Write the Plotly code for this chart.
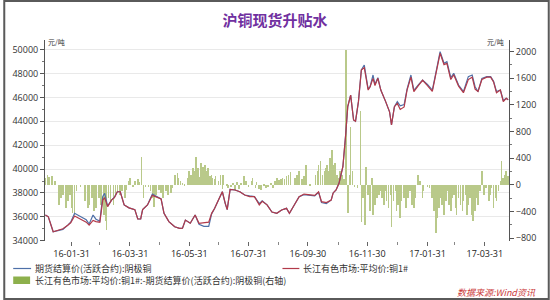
import plotly.graph_objects as go

# ---------------- data ----------------
line_dates = [
    "2016-01-04", "2016-01-07", "2016-01-12", "2016-01-17", "2016-01-22", "2016-01-27", "2016-01-30",
    "2016-02-03", "2016-02-08", "2016-02-15", "2016-02-18", "2016-02-22", "2016-02-25", "2016-02-29",
    "2016-03-03", "2016-03-05", "2016-03-08", "2016-03-12", "2016-03-15", "2016-03-18", "2016-03-21",
    "2016-03-25", "2016-03-30", "2016-04-05", "2016-04-08", "2016-04-11", "2016-04-13", "2016-04-18",
    "2016-04-23", "2016-04-28", "2016-05-02", "2016-05-05", "2016-05-10", "2016-05-16", "2016-05-21",
    "2016-05-24", "2016-05-27", "2016-06-01", "2016-06-06", "2016-06-10", "2016-06-15", "2016-06-20",
    "2016-06-23", "2016-06-26", "2016-06-30", "2016-07-04", "2016-07-07", "2016-07-09", "2016-07-12",
    "2016-07-17", "2016-07-22", "2016-07-27", "2016-08-01", "2016-08-06", "2016-08-11", "2016-08-14",
    "2016-08-19", "2016-08-24", "2016-08-29", "2016-09-03", "2016-09-08", "2016-09-11", "2016-09-16",
    "2016-09-21", "2016-09-26", "2016-10-02", "2016-10-07", "2016-10-11", "2016-10-14", "2016-10-19",
    "2016-10-24", "2016-10-26", "2016-10-29", "2016-11-01", "2016-11-05", "2016-11-08", "2016-11-10",
    "2016-11-13", "2016-11-16", "2016-11-18", "2016-11-21", "2016-11-24", "2016-11-27", "2016-12-01",
    "2016-12-03", "2016-12-06", "2016-12-08", "2016-12-11", "2016-12-14", "2016-12-19", "2016-12-23",
    "2016-12-25", "2016-12-28", "2016-12-31", "2017-01-03", "2017-01-07", "2017-01-10", "2017-01-14",
    "2017-01-17", "2017-01-22", "2017-01-26", "2017-01-31", "2017-02-05", "2017-02-08", "2017-02-13",
    "2017-02-17", "2017-02-20", "2017-02-24", "2017-02-27", "2017-03-04", "2017-03-09", "2017-03-14",
    "2017-03-18", "2017-03-21", "2017-03-24", "2017-03-28", "2017-04-02", "2017-04-06", "2017-04-09",
    "2017-04-12", "2017-04-16", "2017-04-19", "2017-04-22", "2017-04-24",
]

# 长江有色市场:平均价:铜1# (red)
spot_price = [
    36150, 36000, 34750, 34850, 35000, 35300, 35500,
    36070, 35850, 35550, 35300, 35700, 35600, 35550,
    37400, 37600, 36850, 37400, 37600, 38100, 38100,
    37000, 36750, 36600, 35820, 35820, 36600, 36990,
    37800, 37650, 37500, 36300, 35600, 35170, 35040,
    35050, 35730, 35460, 36150, 35460, 35500, 35550,
    36290, 36700, 37410, 38100, 37130, 36600, 38300,
    38250, 38100, 37830, 37700, 37690, 37000, 37300,
    37000, 36400, 36300, 36570, 36710, 36300, 36990,
    37690, 37910, 37850, 37800, 38100, 37270, 37200,
    37410, 38000, 38250, 38810, 40200, 43000, 45230,
    46200, 44110, 44000, 45650, 48300, 48500, 46620,
    46900, 47600, 47000, 47600, 46620, 45650, 44800,
    43700, 45230, 45500, 45000, 45200, 46620, 47700,
    46490, 47040, 47440, 47000, 46500, 47700, 49700,
    48750, 48850, 47500, 47900, 46950, 46400, 47500,
    47700, 46700, 46500, 47500, 47700, 47700, 47300,
    46400, 46620, 45650, 45930, 45800,
]

# 期货结算价(活跃合约):阴极铜 (blue)
futures_price = [
    36150, 36000, 34750, 34850, 34950, 35300, 35550,
    36300, 36050, 35750, 35400, 36150, 35800, 35650,
    37700, 37970, 36900, 37400, 37650, 38100, 38100,
    37000, 36750, 36600, 35820, 35820, 36600, 36990,
    37900, 37650, 37500, 36300, 35600, 35170, 35040,
    35050, 35730, 35460, 36150, 35370, 35200, 35200,
    36250, 36700, 37410, 38100, 37100, 36600, 38300,
    38250, 38100, 37830, 37750, 37690, 37100, 37350,
    37000, 36400, 36300, 36570, 36710, 36300, 36990,
    37690, 37850, 37800, 37750, 38050, 37200, 37100,
    37410, 38000, 38250, 38810, 40200, 43000, 45230,
    46200, 44110, 44000, 45650, 48300, 48720, 46700,
    46900, 47880, 47100, 47650, 46620, 45650, 44800,
    43700, 45230, 45650, 45300, 45400, 46700, 47880,
    46600, 47100, 47460, 47100, 46620, 47800, 49830,
    48860, 49000, 47650, 48020, 47040, 46490, 47740,
    47880, 46900, 46490, 47600, 47740, 47740, 47350,
    46500, 46620, 45750, 45930, 45800,
]

bar_dates = [
    "2016-01-04", "2016-01-06", "2016-01-08", "2016-01-11", "2016-01-14", "2016-01-18", "2016-01-20",
    "2016-01-22", "2016-01-25", "2016-01-27", "2016-01-29", "2016-01-31", "2016-02-01", "2016-02-03",
    "2016-02-05", "2016-02-09", "2016-02-14", "2016-02-17", "2016-02-18", "2016-02-21", "2016-02-23",
    "2016-02-25", "2016-02-28", "2016-03-01", "2016-03-04", "2016-03-06", "2016-03-07", "2016-03-09",
    "2016-03-11", "2016-03-14", "2016-03-16", "2016-03-18", "2016-03-21", "2016-03-23", "2016-03-26",
    "2016-03-27", "2016-03-30", "2016-03-31", "2016-04-03", "2016-04-05", "2016-04-08", "2016-04-09",
    "2016-04-12", "2016-04-14", "2016-04-16", "2016-04-19", "2016-04-21", "2016-04-23", "2016-04-25",
    "2016-04-27", "2016-04-30", "2016-05-02", "2016-05-04", "2016-05-07", "2016-05-09", "2016-05-12",
    "2016-05-13", "2016-05-16", "2016-05-19", "2016-05-20", "2016-05-22", "2016-05-24", "2016-05-26",
    "2016-05-29", "2016-05-31", "2016-06-02", "2016-06-04", "2016-06-06", "2016-06-07", "2016-06-09",
    "2016-06-11", "2016-06-12", "2016-06-14", "2016-06-16", "2016-06-18", "2016-06-19", "2016-06-21",
    "2016-06-23", "2016-06-24", "2016-06-26", "2016-06-27", "2016-06-30", "2016-07-02", "2016-07-04",
    "2016-07-05", "2016-07-09", "2016-07-10", "2016-07-13", "2016-07-15", "2016-07-17", "2016-07-19",
    "2016-07-21", "2016-07-23", "2016-07-26", "2016-07-28", "2016-07-31", "2016-08-03", "2016-08-04",
    "2016-08-07", "2016-08-08", "2016-08-11", "2016-08-13", "2016-08-16", "2016-08-18", "2016-08-20",
    "2016-08-23", "2016-08-25", "2016-08-27", "2016-08-29", "2016-08-31", "2016-09-02", "2016-09-04",
    "2016-09-06", "2016-09-08", "2016-09-10", "2016-09-12", "2016-09-17", "2016-09-19", "2016-09-21",
    "2016-09-24", "2016-09-26", "2016-09-28", "2016-10-02", "2016-10-08", "2016-10-10", "2016-10-11",
    "2016-10-13", "2016-10-15", "2016-10-17", "2016-10-18", "2016-10-20", "2016-10-22", "2016-10-23",
    "2016-10-25", "2016-10-26", "2016-10-28", "2016-10-30", "2016-10-31", "2016-11-02", "2016-11-04",
    "2016-11-06", "2016-11-08", "2016-11-10", "2016-11-12", "2016-11-13", "2016-11-15", "2016-11-17",
    "2016-11-20", "2016-11-23", "2016-11-24", "2016-11-26", "2016-11-28", "2016-11-29", "2016-12-01",
    "2016-12-03", "2016-12-05", "2016-12-06", "2016-12-08", "2016-12-10", "2016-12-12", "2016-12-13",
    "2016-12-15", "2016-12-17", "2016-12-18", "2016-12-20", "2016-12-22", "2016-12-24", "2016-12-25",
    "2016-12-27", "2016-12-29", "2016-12-30", "2017-01-01", "2017-01-03", "2017-01-04", "2017-01-07",
    "2017-01-09", "2017-01-11", "2017-01-13", "2017-01-15", "2017-01-17", "2017-01-18", "2017-01-21",
    "2017-01-23", "2017-01-26", "2017-01-27", "2017-01-31", "2017-02-02", "2017-02-05", "2017-02-07",
    "2017-02-09", "2017-02-10", "2017-02-12", "2017-02-13", "2017-02-15", "2017-02-17", "2017-02-19",
    "2017-02-20", "2017-02-22", "2017-02-24", "2017-02-25", "2017-02-27", "2017-03-01", "2017-03-02",
    "2017-03-04", "2017-03-06", "2017-03-08", "2017-03-09", "2017-03-11", "2017-03-13", "2017-03-14",
    "2017-03-16", "2017-03-18", "2017-03-19", "2017-03-21", "2017-03-23", "2017-03-24", "2017-03-26",
    "2017-03-28", "2017-03-30", "2017-04-01", "2017-04-04", "2017-04-05", "2017-04-07", "2017-04-09",
    "2017-04-11", "2017-04-12", "2017-04-14", "2017-04-16", "2017-04-17", "2017-04-19", "2017-04-21",
    "2017-04-22", "2017-04-24",
]

# 长江有色市场:平均价:铜1#-期货结算价(活跃合约):阴极铜 (right axis)
spread = [
    100, 140, 120, 130, 60, -300, -200,
    -150, -350, -250, -150, -350, -420, -450,
    -100, -30, -250, -350, -300, -200, -400,
    -350, -200, -300, -450, -550, -680, -200,
    -250, -300, -150, -100, -150, -100, -200,
    -80, 50, 100, -30, 60, 90, 40,
    420, -200, -40, -30, -100, -200, -330,
    -150, -80, -120, -200, -100, -150, -120,
    -50, 150, 170, 100, 50, 30, -20,
    100, 200, 150, 250, 200, 410, 250,
    120, 330, 270, 300, 200, 250, 130,
    150, 100, 80, 130, 60, 150, -60,
    150, -20, -50, -30, 20, -80, 40,
    -60, 20, 130, 60, -30, 60, 100,
    -50, 40, -60, -80, -20, -50, -30,
    30, -50, 60, 100, 70, 80, 100,
    90, 130, 150, 190, 100, 150, 200,
    80, 130, 300, -20, 150, 200, 300,
    350, 150, 200, 250, 300, 200, 400,
    520, 300, 330, 150, 100, 200, 150,
    80, 2020, -420, 150, 870, 200, -30,
    -50, 1100, -560, -200, -600, 270, -150,
    -400, 100, -450, -300, -200, -150, -100,
    -200, -300, -100, -250, -350, -150, -630,
    -250, -100, -400, -300, -500, -250, -200,
    -350, -200, -100, -300, -350, -200, 150,
    50, -200, -100, -30, -50, -200, -400,
    -730, -500, -350, -200, -300, -450, -250,
    -100, -300, -400, -200, -150, -350, -450,
    -200, -300, -400, -250, -150, -450, -300,
    -200, -450, -550, -400, -200, -300, -100,
    200, -150, -50, -250, -150, -50, -350,
    -200, -250, -100, 50, 350, 100, 150,
    200, 130,
]

x_tick_dates = ["2016-01-31", "2016-03-31", "2016-05-31", "2016-07-31",
                "2016-09-30", "2016-11-30", "2017-01-31", "2017-03-31"]
x_tick_labels = ["16-01-31", "16-03-31", "16-05-31", "16-07-31",
                 "16-09-30", "16-11-30", "17-01-31", "17-03-31"]
x_minor_dates = ["2016-02-29", "2016-04-30", "2016-06-30", "2016-08-31",
                 "2016-10-31", "2016-12-31", "2017-02-28"]
left_ticks = [34000, 36000, 38000, 40000, 42000, 44000, 46000, 48000, 50000]
right_ticks = [-800, -400, 0, 400, 800, 1200, 1600, 2000]

name_fut = "期货结算价(活跃合约):阴极铜"
name_spot = "长江有色市场:平均价:铜1#"
name_spread = "长江有色市场:平均价:铜1#:-期货结算价(活跃合约):阴极铜(右轴)"

# ---------------- figure ----------------
W, H = 550, 300
L, R, T, B = 42, 41, 40, 59
PW, PH = W - L - R, H - T - B


def px(xp):
    return (xp - L) / PW


def py(yp):
    return (H - B - yp) / PH


BLUE = "#4e70a8"
RED = "#b23a4a"
GREEN_BAR = "#b9c98a"
GREEN_LEG = "#8db04c"
CJK = "Noto Sans CJK SC"

fig = go.Figure()
fig.add_trace(go.Bar(x=bar_dates, y=spread, name=name_spread, yaxis="y",
                     marker=dict(color=GREEN_BAR, line=dict(width=0)),
                     width=0.7 * 86400000))
fig.add_trace(go.Scatter(x=line_dates, y=futures_price, name=name_fut, yaxis="y2",
                         mode="lines", line=dict(color=BLUE, width=1.2)))
fig.add_trace(go.Scatter(x=line_dates, y=spot_price, name=name_spot, yaxis="y2",
                         mode="lines", line=dict(color=RED, width=1.2)))

axis_font = dict(family="Open Sans", size=9, color="#333333")

fig.update_layout(
    width=W, height=H,
    margin=dict(l=L, r=R, t=T, b=B, pad=0),
    paper_bgcolor="white", plot_bgcolor="white",
    showlegend=False,
    bargap=0,
    title=dict(text="<b>沪铜现货升贴水</b>", x=0.5, xanchor="center",
               y=1 - 21 / H, yanchor="middle",
               font=dict(family=CJK, size=15, color="#7030a0")),
    xaxis=dict(type="date", range=["2016-01-03 14:00", "2017-04-24 21:00"],
               tickmode="array", tickvals=x_tick_dates, ticktext=x_tick_labels,
               ticks="outside", ticklen=4, tickcolor="#666666", tickwidth=1,
               showgrid=False, showline=False, zeroline=False,
               tickfont=dict(family="Open Sans", size=9, color="#222222"),
               minor=dict(tickmode="array", tickvals=x_minor_dates, ticks="outside",
                          ticklen=3, tickcolor="#888888", showgrid=False)),
    yaxis=dict(side="right", range=[-845, 2173], tickmode="array", tickvals=right_ticks,
               tickformat="d",
               ticks="outside", ticklen=4, tickcolor="#555555",
               showline=True, linecolor="#555555", linewidth=1,
               showgrid=False, zeroline=False, tickfont=axis_font,
               minor=dict(dtick=200, tick0=0, ticks="outside", ticklen=2,
                          tickcolor="#777777", showgrid=False)),
    yaxis2=dict(side="left", overlaying="y", range=[33975, 50813], tickmode="array",
                tickvals=left_ticks, tickformat="d",
                ticks="outside", ticklen=4, tickcolor="#555555",
                showline=True, linecolor="#555555", linewidth=1,
                showgrid=True, gridcolor="#e9e9e9", gridwidth=1, zeroline=False,
                tickfont=axis_font,
                minor=dict(dtick=1000, tick0=0, ticks="outside", ticklen=2,
                           tickcolor="#777777", showgrid=False)),
)

shapes = [
    # outer frame
    dict(type="rect", xref="paper", yref="paper", x0=px(1), x1=px(549), y0=py(299), y1=py(1),
         line=dict(color="#5a5a5a", width=2), fillcolor="rgba(0,0,0,0)", layer="above"),
    # legend symbols
    dict(type="line", xref="paper", yref="paper", x0=px(10), x1=px(28), y0=py(268.5), y1=py(268.5),
         line=dict(color=BLUE, width=1.2)),
    dict(type="line", xref="paper", yref="paper", x0=px(281), x1=px(298), y0=py(268.5), y1=py(268.5),
         line=dict(color=RED, width=1.2)),
    dict(type="rect", xref="paper", yref="paper", x0=px(10), x1=px(27), y0=py(284), y1=py(276.5),
         line=dict(width=0), fillcolor=GREEN_LEG),
]

annotations = [
    dict(text=name_fut, xref="paper", yref="paper", x=px(30), y=py(268.5), xanchor="left",
         yanchor="middle", showarrow=False, font=dict(family=CJK, size=9, color="#333333")),
    dict(text=name_spot, xref="paper", yref="paper", x=px(300), y=py(268.5), xanchor="left",
         yanchor="middle", showarrow=False, font=dict(family=CJK, size=9, color="#333333")),
    dict(text=name_spread, xref="paper", yref="paper", x=px(30), y=py(280.5), xanchor="left",
         yanchor="middle", showarrow=False, font=dict(family=CJK, size=9, color="#333333")),
    dict(text="<i>数据来源:Wind资讯</i>", xref="paper", yref="paper", x=px(538), y=py(292),
         xanchor="right", yanchor="middle", showarrow=False,
         font=dict(family=CJK, size=9, color="#cc3b3b")),
    dict(text="元/吨", xref="paper", yref="paper", x=px(43), y=py(42), xanchor="left",
         yanchor="middle", showarrow=False, font=dict(family=CJK, size=7, color="#333333")),
    dict(text="元/吨", xref="paper", yref="paper", x=px(506), y=py(42), xanchor="right",
         yanchor="middle", showarrow=False, font=dict(family=CJK, size=7, color="#333333")),
]

fig.update_layout(shapes=shapes, annotations=annotations)

fig.write_html("out.html")
